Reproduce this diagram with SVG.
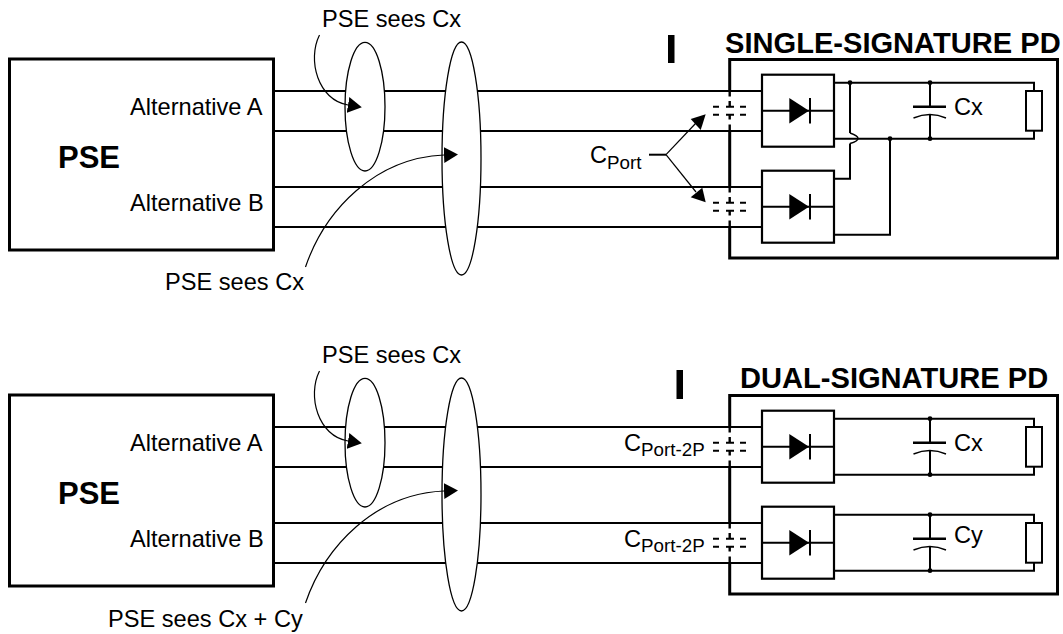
<svg xmlns="http://www.w3.org/2000/svg" width="1063" height="634" viewBox="0 0 1063 634">
<style>
text{font-family:"Liberation Sans",Arial,sans-serif;fill:#000;font-size:23.6px}
.t{font-size:29.1px;font-weight:bold}
.pse{font-size:31px;font-weight:bold}
.sub{font-size:18.8px}
.box{fill:none;stroke:#000;stroke-width:3}
.blk{fill:none;stroke:#000;stroke-width:2.2}
.w{fill:none;stroke:#000;stroke-width:2}
.wall{fill:none;stroke:#000;stroke-width:3}
.thin{fill:none;stroke:#000;stroke-width:1.2}
.ell{fill:#fff;stroke:#000;stroke-width:1.3}
.dot{fill:#000}
</style>
<defs>
<marker id="head" markerUnits="userSpaceOnUse" viewBox="0 0 14 16" refX="0" refY="8" markerWidth="14" markerHeight="16" orient="auto"><path d="M0 0L14 8L0 16Z" fill="#000"/></marker>
<g id="diode">
<rect class="blk" x="762" y="74.7" width="72" height="72"/>
<path class="w" d="M762 110.7H834M810 98V123.5"/>
<path d="M789.3 98L809 110.7L789.3 123.5Z" fill="#000"/>
</g>
<g id="cport">
<path d="M713 106.7H719M726 106.7H734M740 106.7H746M713 114.7H719M726 114.7H734M740 114.7H746" fill="none" stroke="#000" stroke-width="2"/>
</g>
<g id="walldash">
<path d="M729.7 92V96.5M729.7 101V106.7M729.7 114.7V119.5M729.7 124.5V131" fill="none" stroke="#000" stroke-width="2.4"/>
</g>
<g id="load">
<path class="w" d="M834 82.7H1034V91M1034 130.7V138.7H930"/>
<path class="w" d="M930 82.7V106.7M930 115V138.7"/>
<path d="M913 106.7H946" fill="none" stroke="#000" stroke-width="2.4"/>
<path d="M913.5 118Q930 111 946 118" fill="none" stroke="#000" stroke-width="1.4"/>
<rect class="w" x="1026" y="91" width="16" height="39.7"/>
<circle class="dot" cx="930" cy="82.7" r="2.4"/>
<circle class="dot" cx="930" cy="138.7" r="2.4"/>
</g>
</defs>
<g id="connectors">
<path class="w" d="M273 91H762M273 131H762M273 187H762M273 227H762"/>
<path class="w" d="M273 427H762M273 467H762M273 523H762M273 563H762"/>
<path class="w" d="M649 154.7H666"/>
<path class="thin" d="M666 154.7L696 123"/>
<path class="thin" d="M666 154.7L696 192"/>
<path d="M705.7 114.3L690.7 119L700.7 130Z" fill="#000"/>
<path d="M705.7 202.3L690.7 197.3L702.3 187.7Z" fill="#000"/>
</g>
<g id="ellipses-top">
<ellipse class="ell" cx="365" cy="106.7" rx="20" ry="64.3"/>
<ellipse class="ell" cx="461.5" cy="158.5" rx="19.5" ry="116.5"/>
<path class="thin" d="M319.5 35C307 60 318 100 348 105" marker-end="url(#head)"/>
<path class="thin" d="M305.5 267C325 210 375 158 444 155" marker-end="url(#head)"/>
</g>
<g id="ellipses-bottom">
<ellipse class="ell" cx="365" cy="442.7" rx="20" ry="64.3"/>
<ellipse class="ell" cx="461.5" cy="494.5" rx="19.5" ry="116.5"/>
<path class="thin" d="M319.5 371C307 396 318 436 348 441" marker-end="url(#head)"/>
<path class="thin" d="M305.5 603C325 546 375 494 444 491" marker-end="url(#head)"/>
</g>
<g id="pse-top">
<rect class="box" x="9.5" y="59" width="264" height="191"/>
<text x="130" y="115">Alternative A</text>
<text x="130" y="211">Alternative B</text>
<text class="pse" x="58" y="168">PSE</text>
</g>
<g id="pse-bottom">
<rect class="box" x="9.5" y="395" width="264" height="191"/>
<text x="130" y="451">Alternative A</text>
<text x="130" y="547">Alternative B</text>
<text class="pse" x="58" y="504">PSE</text>
</g>
<g id="pd-single">
<path class="wall" d="M729.7 91V59.5H1057.5V258H729.7V227M729.7 131V187"/>
<use href="#walldash"/>
<use href="#walldash" y="96"/>
<use href="#cport"/>
<use href="#cport" y="96"/>
<use href="#diode"/>
<use href="#diode" y="96"/>
<use href="#load"/>
<path class="w" d="M850 82.7V133M850 143.5V178.7H834M834 234.7H890V138.7M834 138.7H930"/>
<path d="M850 133Q866 138.500 850 143.5" fill="none" stroke="#000" stroke-width="1.5"/>
<circle class="dot" cx="850" cy="82.7" r="2.4"/>
<circle class="dot" cx="890" cy="138.7" r="2.4"/>
<text x="954" y="115">Cx</text>
<text class="t" x="725" y="53">SINGLE-SIGNATURE PD</text>
</g>
<g id="pd-dual">
<path class="wall" d="M729.7 427V395.5H1057.5V594H729.7V563M729.7 467V523"/>
<use href="#walldash" y="336"/>
<use href="#walldash" y="432"/>
<use href="#cport" y="336"/>
<use href="#cport" y="432"/>
<use href="#diode" y="336"/>
<use href="#diode" y="432"/>
<use href="#load" y="336"/>
<use href="#load" y="432"/>
<path class="w" d="M834 474.7H930"/>
<path class="w" d="M834 570.7H930"/>
<text x="954" y="451">Cx</text>
<text x="954" y="543">Cy</text>
<text class="t" x="740" y="388">DUAL-SIGNATURE PD</text>
</g>
<g id="labels">
<rect x="668" y="35" width="6.5" height="28" fill="#000"/>
<rect x="676.500" y="370" width="6.5" height="29" fill="#000"/>
<text x="322" y="27">PSE sees Cx</text>
<text x="165" y="290">PSE sees Cx</text>
<text x="322" y="363">PSE sees Cx</text>
<text x="108" y="627">PSE sees Cx + Cy</text>
<text x="590" y="163">C</text><text class="sub" x="607" y="168.5">Port</text>
<text x="624" y="451">C</text><text class="sub" x="641" y="456">Port-2P</text>
<text x="624" y="547">C</text><text class="sub" x="641" y="552">Port-2P</text>
</g>
</svg>
